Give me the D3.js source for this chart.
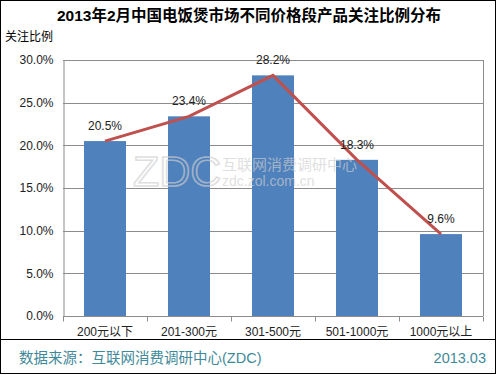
<!DOCTYPE html>
<html>
<head>
<meta charset="utf-8">
<script src="https://cdn.jsdelivr.net/npm/d3@7"></script>
<style>
  body { margin: 0; background: #fff; }
  text { font-family: "Liberation Sans", "Noto Sans CJK SC", sans-serif; }
</style>
</head>
<body>
<div id="chart"></div>
<script>
const width = 500;
const height = 375;

// Data
const categories = ["200元以下", "201-300元", "301-500元", "501-1000元", "1000元以上"];
const values = [20.5, 23.4, 28.2, 18.3, 9.6];
const yTicks = [0, 5, 10, 15, 20, 25, 30];

const plot = {left: 63, right: 483, top: 60, bottom: 316};

const svg = d3.select("#chart")
    .append("svg")
    .attr("width", width)
    .attr("height", height);

// outer frame
svg.append("rect")
    .attr("x", 0.5).attr("y", 0.5)
    .attr("width", 495).attr("height", 373)
    .attr("fill", "#fff")
    .attr("stroke", "#000");

const x = d3.scaleBand()
    .domain(categories)
    .range([plot.left, plot.right])
    .paddingInner(0.5)
    .paddingOuter(0.25);

const y = d3.scaleLinear()
    .domain([0, 30])
    .range([plot.bottom, plot.top]);

// Title
svg.append("text")
    .attr("x", 249).attr("y", 21)
    .attr("text-anchor", "middle")
    .attr("font-size", 15.5)
    .attr("font-weight", "bold")
    .text("2013年2月中国电饭煲市场不同价格段产品关注比例分布");

svg.append("text")
    .attr("x", 5).attr("y", 41)
    .attr("font-size", 12)
    .text("关注比例");

// gridlines
svg.append("g")
    .selectAll("line")
    .data(yTicks)
    .join("line")
    .attr("x1", plot.left).attr("x2", plot.right)
    .attr("y1", d => Math.round(y(d)) + 0.5)
    .attr("y2", d => Math.round(y(d)) + 0.5)
    .attr("stroke", "#8c8c8c");

// right border of plot
svg.append("line")
    .attr("x1", plot.right + 0.5).attr("x2", plot.right + 0.5)
    .attr("y1", plot.top).attr("y2", plot.bottom)
    .attr("stroke", "#8c8c8c");

// y axis
const yAxis = svg.append("g")
    .attr("transform", `translate(${plot.left + 0.5},0)`)
    .call(d3.axisLeft(y).tickValues(yTicks).tickSize(0).tickPadding(10)
        .tickFormat(d => d.toFixed(1) + "%"));
yAxis.select(".domain").attr("stroke", "#8c8c8c");
yAxis.selectAll("text").attr("font-size", 12).attr("fill", "#222")
    .style("font-family", "'Liberation Sans', sans-serif");

// bars
svg.append("g")
    .selectAll("rect")
    .data(values)
    .join("rect")
    .attr("x", (d, i) => x(categories[i]))
    .attr("y", d => y(d))
    .attr("width", x.bandwidth())
    .attr("height", d => y(0) - y(d))
    .attr("fill", "#4f81bd");

// watermark (sits over the bars)
const wm = svg.append("g").attr("opacity", 0.65);
wm.append("text").attr("x", 133).attr("y", 186)
    .attr("font-size", 43).attr("font-family", "'DejaVu Serif', serif")
    .attr("fill", "none").attr("stroke", "#cfcfcf").attr("stroke-width", 1.6)
    .text("ZDC");
wm.append("text").attr("x", 222).attr("y", 170)
    .attr("font-size", 15).attr("fill", "#cfcfcf")
    .text("互联网消费调研中心");
wm.append("text").attr("x", 222).attr("y", 186)
    .attr("font-size", 14).attr("fill", "#cfcfcf")
    .text("zdc.zol.com.cn");

// x axis
const step = x.step();
const xAxis = svg.append("g")
    .attr("transform", `translate(0,${plot.bottom + 0.5})`);
xAxis.append("line")
    .attr("x1", plot.left).attr("x2", plot.right)
    .attr("stroke", "#8c8c8c");
xAxis.selectAll("line.tick")
    .data(d3.range(categories.length + 1))
    .join("line")
    .attr("class", "tick")
    .attr("x1", i => Math.round(plot.left + i * step) + 0.5)
    .attr("x2", i => Math.round(plot.left + i * step) + 0.5)
    .attr("y1", 0).attr("y2", 5)
    .attr("stroke", "#8c8c8c");
xAxis.selectAll("text")
    .data(categories)
    .join("text")
    .attr("x", d => x(d) + x.bandwidth() / 2)
    .attr("y", 19)
    .attr("text-anchor", "middle")
    .attr("font-size", 12)
    .attr("fill", "#222")
    .text(d => d);

// line
const line = d3.line()
    .x((d, i) => x(categories[i]) + x.bandwidth() / 2)
    .y(d => y(d));
svg.append("path")
    .datum(values)
    .attr("d", line)
    .attr("fill", "none")
    .attr("stroke", "#c0504d")
    .attr("stroke-width", 3);

// value labels
svg.append("g")
    .selectAll("text")
    .data(values)
    .join("text")
    .attr("x", (d, i) => x(categories[i]) + x.bandwidth() / 2)
    .attr("y", d => y(d) - 11)
    .attr("text-anchor", "middle")
    .attr("font-size", 12)
    .attr("fill", "#222")
    .text(d => d.toFixed(1) + "%");

// footer
svg.append("line")
    .attr("x1", 0).attr("x2", 496)
    .attr("y1", 339.5).attr("y2", 339.5)
    .attr("stroke", "#000");
svg.append("text")
    .attr("x", 19).attr("y", 363)
    .attr("font-size", 14.5)
    .attr("fill", "#3f8a99")
    .text("数据来源：互联网消费调研中心(ZDC)");
svg.append("text")
    .attr("x", 486).attr("y", 363)
    .attr("text-anchor", "end")
    .attr("font-size", 14.5)
    .attr("fill", "#3f8a99")
    .text("2013.03");
</script>
</body>
</html>
